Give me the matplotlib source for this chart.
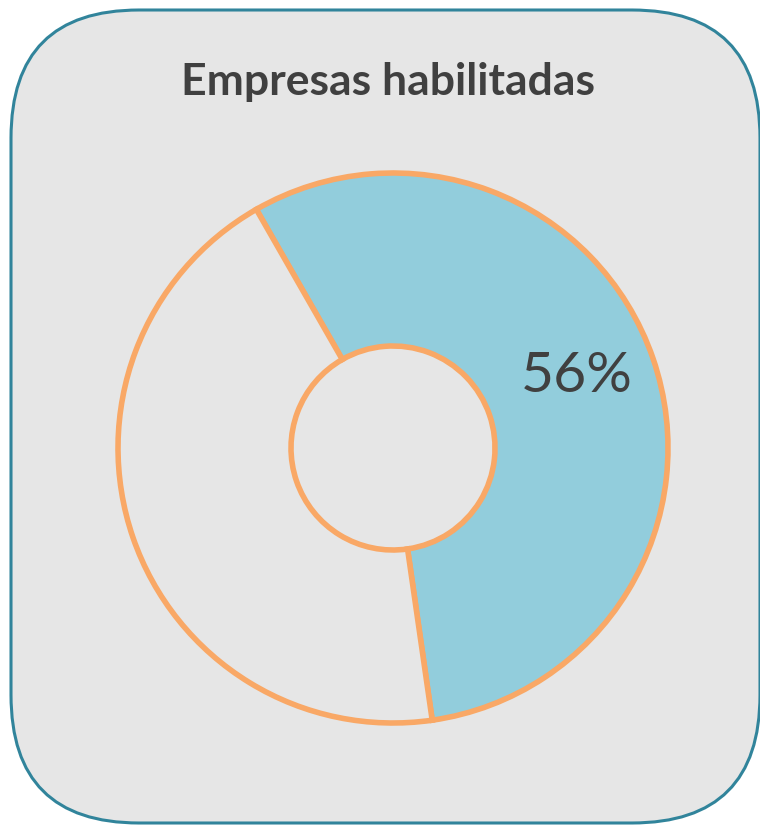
import matplotlib.pyplot as plt
from matplotlib.patches import FancyBboxPatch

# data
labels = ['Habilitadas', 'Resto']
values = [56, 44]
title = 'Empresas habilitadas'

bg = '#e6e6e6'
border = '#31849b'
orange = '#f9a866'
blue = '#92cddc'
text_col = '#404040'

fig = plt.figure(figsize=(7.6, 8.25), dpi=100)
fig.patch.set_facecolor('white')
ax = fig.add_axes([0, 0, 1, 1])

# rounded card behind the chart
card = FancyBboxPatch((11, 2), 749, 813, boxstyle='round,pad=0,rounding_size=128',
                      facecolor=bg, edgecolor=border, linewidth=2.2, zorder=0)
ax.add_patch(card)

ax.pie(values, colors=[blue, bg], startangle=119.8, counterclock=False,
       center=(393, 377), radius=275, frame=True,
       wedgeprops=dict(width=173, edgecolor=orange, linewidth=4.0))
ax.set_xlim(0, 760)
ax.set_ylim(0, 825)
ax.set_aspect('equal')
ax.axis('off')

ax.text(577, 825 - 377, f'{values[0]}%', fontsize=41, color=text_col,
        family='Lato', fontweight='normal', ha='center', va='center')

ax.text(388, 825 - 82, title, fontsize=32, color=text_col, family='Lato',
        fontweight='bold', ha='center', va='center')

fig.savefig('out.png', dpi=100, facecolor=fig.get_facecolor())
